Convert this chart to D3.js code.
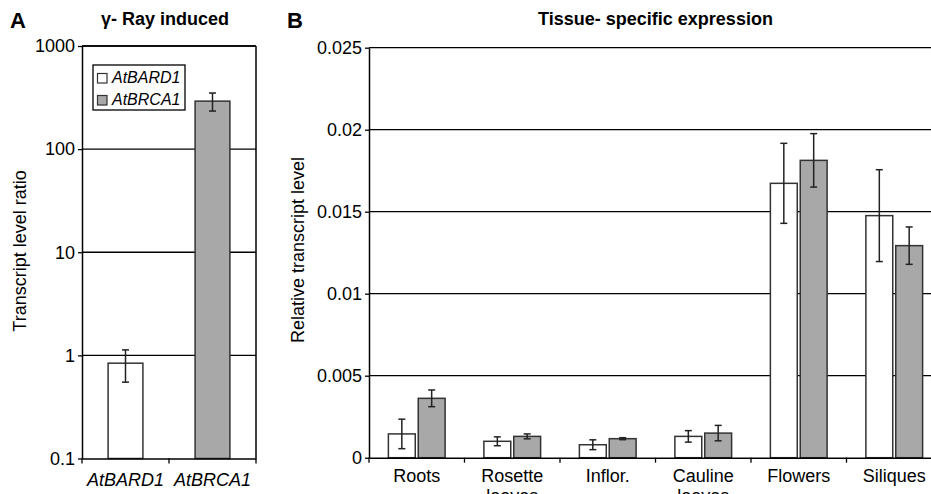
<!DOCTYPE html>
<html>
<head>
<meta charset="utf-8">
<script src="https://cdn.jsdelivr.net/npm/d3@7"></script>
<style>
  body { margin: 0; background: #fff; }
  svg { display: block; font-family: "Liberation Sans", Arial, sans-serif; }
</style>
</head>
<body>
<div id="chart"></div>
<script>
// panel A: gamma-ray induction (log scale)
const genes = ["AtBARD1", "AtBRCA1"];
const gammaValues = [0.84, 292];
const gammaErrors = [0.29, 58];
const logTicks = [0.1, 1, 10, 100, 1000];
const logTickLabels = ["0.1", "1", "10", "100", "1000"];

// panel B: tissue-specific expression
const tissues = ["Roots", "Rosette leaves", "Inflor.", "Cauline leaves", "Flowers", "Siliques"];
const tissueLabelLines = [["Roots"], ["Rosette", "leaves"], ["Inflor."], ["Cauline", "leaves"], ["Flowers"], ["Siliques"]];
const bard1Values = [0.00145, 0.00100, 0.00079, 0.00130, 0.01673, 0.01476];
const bard1Errors = [0.00090, 0.00027, 0.00030, 0.00035, 0.00244, 0.00280];
const brca1Values = [0.00362, 0.00130, 0.00116, 0.00150, 0.01813, 0.01293];
const brca1Errors = [0.00051, 0.00015, 0.00006, 0.00047, 0.00163, 0.00114];
const linTicks = [0, 0.005, 0.01, 0.015, 0.02, 0.025];
const linTickLabels = ["0", "0.005", "0.01", "0.015", "0.02", "0.025"];

const fills = {AtBARD1: "#ffffff", AtBRCA1: "#a8a8a8"};
const barStroke = "#333";

const svg = d3.select("#chart").append("svg")
    .attr("width", 931)
    .attr("height", 494);

function errorBar(g, cx, yTop, yBot, cap) {
    g.append("line").attr("x1", cx).attr("x2", cx).attr("y1", yTop).attr("y2", yBot)
        .attr("stroke", "#222").attr("stroke-width", 1.5);
    [yTop, yBot].forEach(y => {
        g.append("line").attr("x1", cx - cap).attr("x2", cx + cap).attr("y1", y).attr("y2", y)
            .attr("stroke", "#222").attr("stroke-width", 1.5);
    });
}

// ---------- Panel A ----------
const A = {left: 82, right: 256, top: 46, bottom: 458.5};
const gA = svg.append("g").attr("class", "panelA");

const xA = d3.scaleBand().domain(genes).range([A.left, A.right]);
const yA = d3.scaleLog().domain([0.1, 1000]).range([A.bottom, A.top]);

// gridlines
gA.append("g").selectAll("line")
    .data(logTicks.slice(1))
    .join("line")
    .attr("x1", A.left).attr("x2", A.right)
    .attr("y1", d => yA(d)).attr("y2", d => yA(d))
    .attr("stroke", "#000").attr("stroke-width", 1.3);

// right frame
gA.append("line").attr("x1", A.right).attr("x2", A.right).attr("y1", A.top).attr("y2", A.bottom)
    .attr("stroke", "#000").attr("stroke-width", 1.5);

// bars
const barWA = xA.bandwidth() * 0.4;
genes.forEach((g, i) => {
    const cx = xA(g) + xA.bandwidth() / 2;
    gA.append("rect")
        .attr("x", cx - barWA / 2).attr("width", barWA)
        .attr("y", yA(gammaValues[i])).attr("height", A.bottom - yA(gammaValues[i]))
        .attr("fill", fills[g]).attr("stroke", barStroke).attr("stroke-width", 1.5);
    errorBar(gA, cx, yA(gammaValues[i] + gammaErrors[i]), yA(gammaValues[i] - gammaErrors[i]), 3.5);
});

// y axis
const yAxisA = gA.append("g")
    .attr("transform", "translate(" + A.left + ",0)")
    .call(d3.axisLeft(yA).tickValues(logTicks).tickFormat((d, i) => logTickLabels[i]).tickSize(4).tickSizeOuter(0));
// x axis
const xAxisA = gA.append("g")
    .attr("transform", "translate(0," + A.bottom + ")")
    .call(d3.axisBottom(xA).tickSize(0).tickSizeOuter(0).tickFormat(""));
gA.append("g").selectAll("line")
    .data([A.left, xA(genes[1]), A.right])
    .join("line")
    .attr("x1", d => d).attr("x2", d => d).attr("y1", A.bottom).attr("y2", A.bottom + 5)
    .attr("stroke", "#000").attr("stroke-width", 1.3);

gA.selectAll(".domain").attr("stroke", "#000").attr("stroke-width", 1.5);
yAxisA.selectAll(".tick line").attr("stroke", "#000").attr("stroke-width", 1.3);
yAxisA.selectAll(".tick text").attr("font-size", 18).attr("fill", "#000").attr("x", -7);

// top frame
gA.append("line").attr("x1", A.left).attr("x2", A.right).attr("y1", A.top).attr("y2", A.top)
    .attr("stroke", "#000").attr("stroke-width", 1.5);

// x labels
gA.selectAll(".geneLabel")
    .data(genes)
    .join("text")
    .attr("class", "geneLabel")
    .attr("x", d => xA(d) + xA.bandwidth() / 2)
    .attr("y", 486)
    .attr("text-anchor", "middle")
    .attr("font-size", 18).attr("font-style", "italic")
    .text(d => d);

// legend
const leg = gA.append("g").attr("transform", "translate(93,65)");
leg.append("rect").attr("width", 92).attr("height", 45)
    .attr("fill", "#fff").attr("stroke", "#000").attr("stroke-width", 1.3);
genes.forEach((g, i) => {
    leg.append("rect").attr("x", 4.5).attr("y", 8.5 + i * 22).attr("width", 9.5).attr("height", 9.5)
        .attr("fill", fills[g]).attr("stroke", barStroke).attr("stroke-width", 1.2);
    leg.append("text").attr("x", 19).attr("y", 18 + i * 21.5)
        .attr("font-size", 16).attr("font-style", "italic").text(g);
});

// titles and labels
svg.append("text").attr("x", 10).attr("y", 28).attr("font-size", 22).attr("font-weight", "bold").text("A");
svg.append("text").attr("x", 165).attr("y", 25).attr("text-anchor", "middle")
    .attr("font-size", 18).attr("font-weight", "bold").text("γ- Ray induced");
svg.append("text")
    .attr("transform", "translate(26,251) rotate(-90)")
    .attr("text-anchor", "middle").attr("font-size", 18)
    .text("Transcript level ratio");

// ---------- Panel B ----------
const B = {left: 369, right: 942, top: 47.7, bottom: 457.7};
const gB = svg.append("g").attr("class", "panelB");

const xB = d3.scaleBand().domain(tissues).range([B.left, B.right]);
const groupW = xB.bandwidth() * 0.594;
const xSeries = d3.scaleBand().domain(genes).range([0, groupW]).paddingInner(0.1);
const yB = d3.scaleLinear().domain([0, 0.025]).range([B.bottom, B.top]);

gB.append("g").selectAll("line")
    .data(linTicks.slice(1))
    .join("line")
    .attr("x1", B.left).attr("x2", 931)
    .attr("y1", d => yB(d)).attr("y2", d => yB(d))
    .attr("stroke", "#000").attr("stroke-width", 1.3);

const seriesVals = {AtBARD1: bard1Values, AtBRCA1: brca1Values};
const seriesErrs = {AtBARD1: bard1Errors, AtBRCA1: brca1Errors};

tissues.forEach((t, i) => {
    const gx = xB(t) + (xB.bandwidth() - groupW) / 2;
    genes.forEach(g => {
        const v = seriesVals[g][i];
        const e = seriesErrs[g][i];
        const x = gx + xSeries(g);
        gB.append("rect")
            .attr("x", x).attr("width", xSeries.bandwidth())
            .attr("y", yB(v)).attr("height", B.bottom - yB(v))
            .attr("fill", fills[g]).attr("stroke", barStroke).attr("stroke-width", 1.5);
        errorBar(gB, x + xSeries.bandwidth() / 2, yB(v + e), yB(v - e), 3.5);
    });
});

const yAxisB = gB.append("g")
    .attr("transform", "translate(" + B.left + ",0)")
    .call(d3.axisLeft(yB).tickValues(linTicks).tickFormat((d, i) => linTickLabels[i]).tickSize(4).tickSizeOuter(0));
yAxisB.selectAll(".tick line").attr("stroke", "#000").attr("stroke-width", 1.3);
yAxisB.selectAll(".tick text").attr("font-size", 18).attr("fill", "#000").attr("x", -7);

const xAxisB = gB.append("g")
    .attr("transform", "translate(0," + B.bottom + ")")
    .call(d3.axisBottom(xB).tickSize(0).tickSizeOuter(0).tickFormat(""));
gB.append("g").selectAll("line")
    .data(tissues.map(t => xB(t)))
    .join("line")
    .attr("x1", d => d).attr("x2", d => d).attr("y1", B.bottom).attr("y2", B.bottom + 5)
    .attr("stroke", "#000").attr("stroke-width", 1.3);
gB.selectAll(".domain").attr("stroke", "#000").attr("stroke-width", 1.5);

// two-line labels run past the bottom edge, as in the original figure
const labB = gB.selectAll(".tissueLabel")
    .data(tissues)
    .join("text")
    .attr("class", "tissueLabel")
    .attr("x", d => xB(d) + xB.bandwidth() / 2)
    .attr("y", 482)
    .attr("text-anchor", "middle")
    .attr("font-size", 18);
labB.each(function(d, i) {
    const el = d3.select(this);
    tissueLabelLines[i].forEach((line, j) => {
        el.append("tspan").attr("x", xB(d) + xB.bandwidth() / 2).attr("dy", j === 0 ? 0 : 20).text(line);
    });
});

svg.append("text").attr("x", 287).attr("y", 28).attr("font-size", 22).attr("font-weight", "bold").text("B");
svg.append("text").attr("x", (B.left + B.right) / 2).attr("y", 25).attr("text-anchor", "middle")
    .attr("font-size", 18).attr("font-weight", "bold").text("Tissue- specific expression");
svg.append("text")
    .attr("transform", "translate(304,250) rotate(-90)")
    .attr("text-anchor", "middle").attr("font-size", 18)
    .text("Relative transcript level");
</script>
</body>
</html>
